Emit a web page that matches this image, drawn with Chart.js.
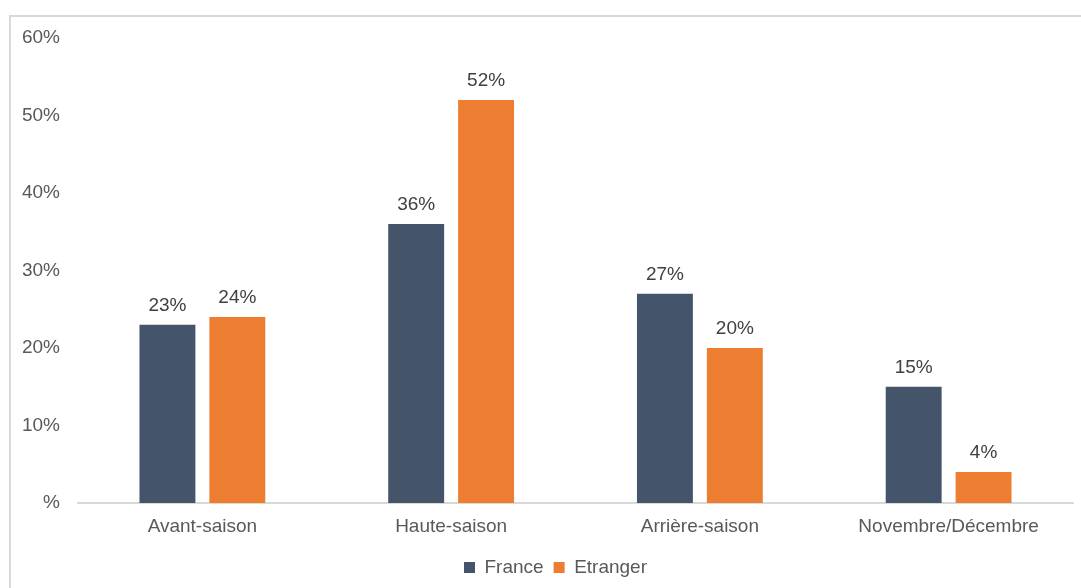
<!DOCTYPE html>
<html>
<head>
<meta charset="utf-8">
<script src="https://cdn.jsdelivr.net/npm/chart.js@4/dist/chart.umd.min.js"></script>
<style>
    html, body { margin: 0; padding: 0; background: #fff; }
    #wrap { position: relative; width: 1081px; height: 588px; overflow: hidden; }
    #frame {
        position: absolute; left: 9px; top: 15px; width: 1100px; height: 600px;
        border: 2px solid #d9d9d9; box-sizing: border-box;
    }
    #chart { position: absolute; left: 0; top: 0; }
</style>
</head>
<body>
<div id="wrap">
    <div id="frame"></div>
    <canvas id="chart" width="1081" height="588"></canvas>
</div>
<script>
// Saisons et parts de séjours
const saisons = ['Avant-saison', 'Haute-saison', 'Arrière-saison', 'Novembre/Décembre'];
const france = [23, 36, 27, 15];
const etranger = [24, 52, 20, 4];
const yTicks = [0, 10, 20, 30, 40, 50, 60];

Chart.defaults.font.family = "'Liberation Sans', Arial, sans-serif";
Chart.defaults.font.size = 19;
Chart.defaults.color = '#595959';
Chart.defaults.animation = false;

// Étiquettes de valeur au-dessus de chaque barre
const valueLabels = {
    id: 'valueLabels',
    afterDatasetsDraw(chart) {
        const ctx = chart.ctx;
        ctx.save();
        ctx.font = "19px 'Liberation Sans', Arial, sans-serif";
        ctx.fillStyle = '#404040';
        ctx.textAlign = 'center';
        ctx.textBaseline = 'alphabetic';
        chart.data.datasets.forEach((ds, i) => {
            chart.getDatasetMeta(i).data.forEach((bar, j) => {
                ctx.fillText(Math.round(ds.data[j]) + '%', bar.x, bar.y - 14);
            });
        });
        ctx.restore();
    }
};

// Légende décalée un peu vers la droite (centrée entre 38px et le bord droit)
const legendShift = {
    id: 'legendShift',
    afterLayout(chart) {
        if (chart.legend) chart.legend.left = 38;
    }
};

const ctx = document.getElementById('chart').getContext('2d');
new Chart(ctx, {
    type: 'bar',
    data: {
        labels: saisons,
        datasets: [{
            label: 'France',
            data: france,
            backgroundColor: '#44546a',
            categoryPercentage: 0.562,
            barPercentage: 0.8
        }, {
            label: 'Etranger',
            data: etranger,
            backgroundColor: '#ed7d31',
            categoryPercentage: 0.562,
            barPercentage: 0.8
        }]
    },
    options: {
        responsive: false,
        layout: { padding: { top: 38, right: 8, bottom: 1, left: 0 } },
        plugins: {
            legend: {
                position: 'bottom',
                labels: { boxWidth: 11, boxHeight: 11, padding: 10, color: '#595959' }
            },
            tooltip: { enabled: false }
        },
        scales: {
            x: {
                grid: { display: false, drawTicks: false },
                border: { display: true, color: '#d9d9d9', width: 2 },
                ticks: { padding: 12, color: '#595959' },
                afterFit(scale) { scale.height = 45; }
            },
            y: {
                min: 0,
                max: 60,
                afterBuildTicks(scale) { scale.ticks = yTicks.map(v => ({ value: v })); },
                grid: { display: false, drawTicks: false },
                border: { display: false },
                ticks: {
                    padding: 18,
                    color: '#595959',
                    callback: v => v === 0 ? '%' : v + '%'
                },
                afterFit(scale) { scale.width = 78; }
            }
        }
    },
    plugins: [valueLabels, legendShift]
});
</script>
</body>
</html>
